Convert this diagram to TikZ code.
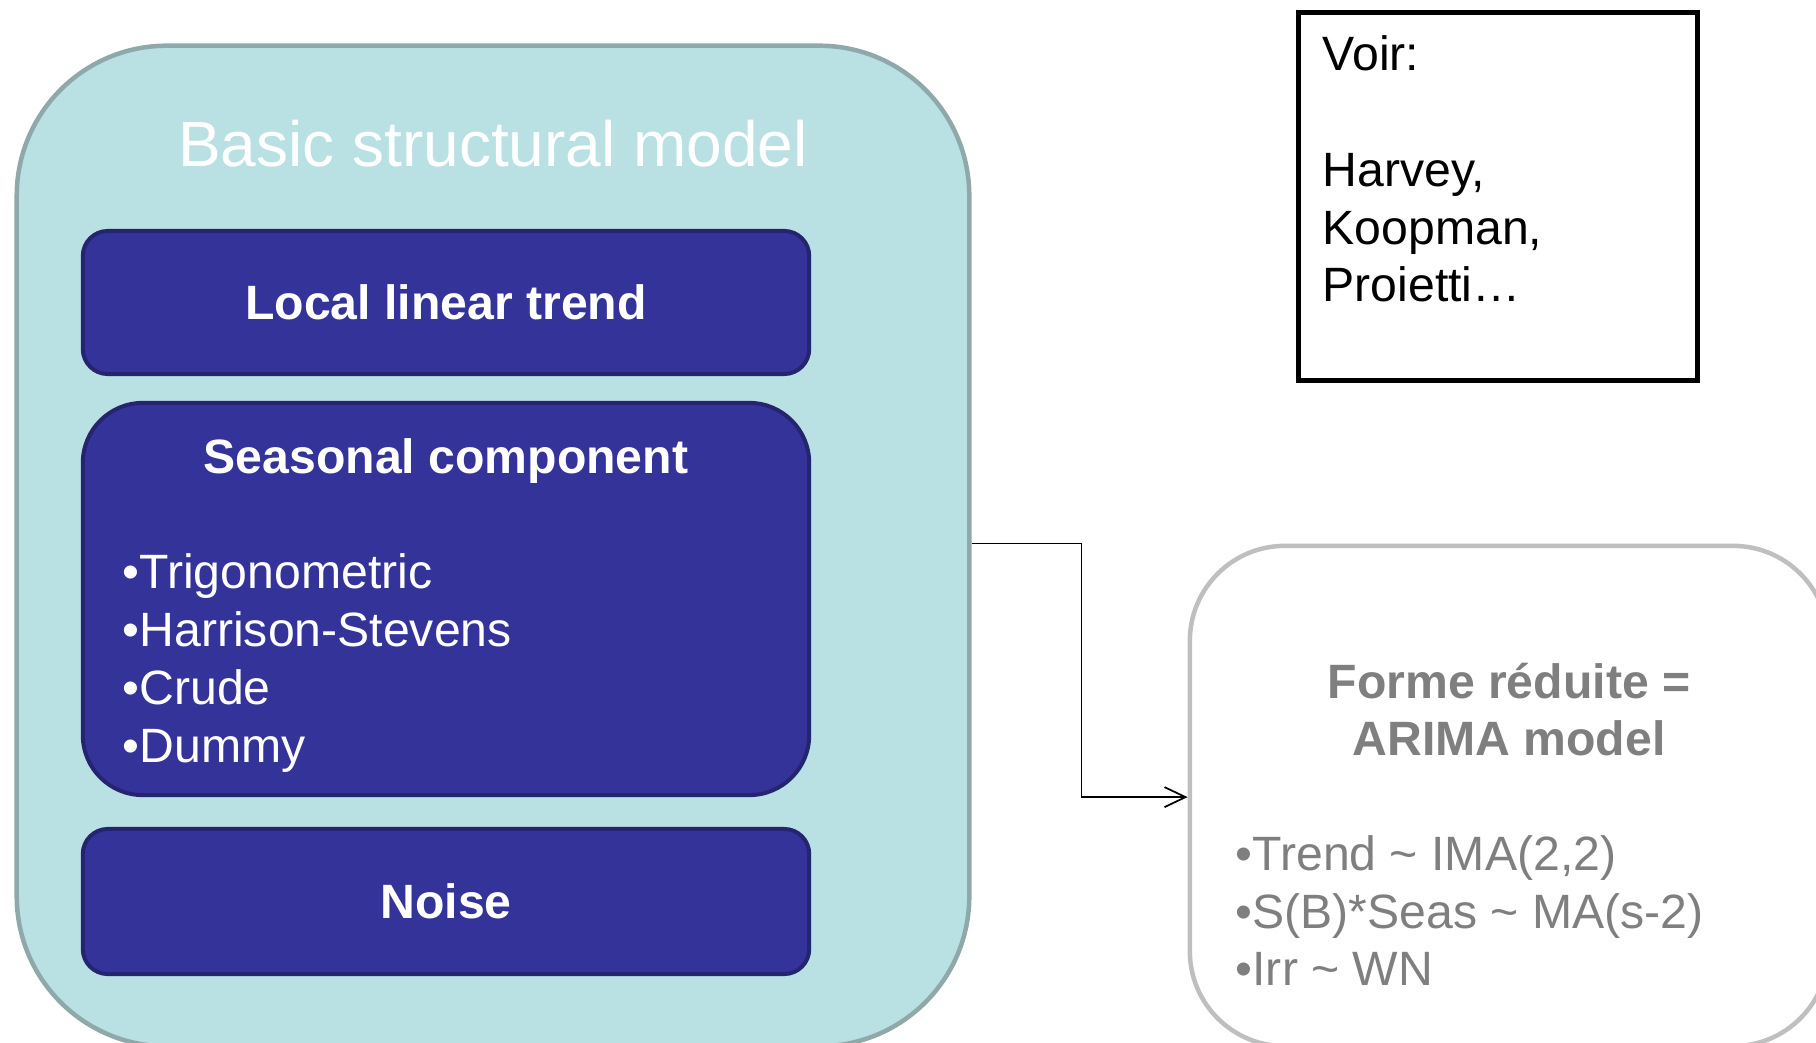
\documentclass[tikz,border=0pt]{standalone}
\usepackage{fontspec}
\setmainfont{Liberation Sans}
\usepackage{tikz}
\usetikzlibrary{arrows.meta}
\definecolor{bsmfill}{HTML}{B9E0E3}
\definecolor{bsmline}{HTML}{8FA9AB}
\definecolor{navyfill}{HTML}{343399}
\definecolor{navyline}{HTML}{25246E}
\definecolor{redgray}{HTML}{7F7F7F}
\definecolor{redline}{HTML}{BFBFBF}

\begin{document}
\begin{tikzpicture}[x=0.01cm,y=-0.01cm,
  bigbox/.style={draw=bsmline,fill=bsmfill,line width=0.45mm,rounded corners=1.5cm,inner sep=0pt},
  compbox/.style={draw=navyline,fill=navyfill,line width=0.4mm,inner sep=0pt,minimum width=7.26cm},
  txt/.style={inner sep=0pt,font=\fontsize{13.7}{16.5}\selectfont},
  wtxt/.style={txt,text=white},
  gtxt/.style={txt,text=redgray},
  conn/.style={line width=0.5pt,-{Straight Barb[length=2.1mm,width=2mm]}}]
\useasboundingbox (0,0) rectangle (1816,1043);
\clip (0,0) rectangle (1816,1043);
% basic structural model
\node[bigbox,minimum width=9.52cm,minimum height=10cm] (bsm) at (493,546) {};
\node[inner sep=0pt,text=white,font=\fontsize{18.2}{22}\selectfont,anchor=base] (bsmtitle) at (493,167) {Basic structural model};
\node[compbox,rounded corners=0.25cm,minimum height=1.43cm] (llt) at (446,302.5) {};
\node[wtxt,font=\fontsize{13.7}{16.5}\selectfont\bfseries,anchor=base] (llttext) at (446,319.5) {Local linear trend};
\node[compbox,rounded corners=0.6cm,minimum height=3.92cm] (seas) at (446,599) {};
\node[wtxt,font=\fontsize{13.7}{16.5}\selectfont\bfseries,anchor=base] (seastext) at (446,473) {Seasonal component};
\node[wtxt,anchor=base west] (s1) at (122,588) {•Trigonometric};
\node[wtxt,anchor=base west] (s2) at (122,646) {•Harrison-Stevens};
\node[wtxt,anchor=base west] (s3) at (122,704) {•Crude};
\node[wtxt,anchor=base west] (s4) at (122,762) {•Dummy};
\node[compbox,rounded corners=0.25cm,minimum height=1.45cm] (noise) at (446,901.5) {};
\node[wtxt,font=\fontsize{13.7}{16.5}\selectfont\bfseries,anchor=base] (noisetext) at (446,918.5) {Noise};
% reduced form
\node[draw=redline,fill=white,line width=0.45mm,rounded corners=0.95cm,inner sep=0pt,minimum width=6.38cm,minimum height=5cm] (arima) at (1509,796) {};
\node[gtxt,font=\fontsize{13.7}{16.5}\selectfont\bfseries,anchor=base] (arimat1) at (1509,698) {Forme réduite =};
\node[gtxt,font=\fontsize{13.7}{16.5}\selectfont\bfseries,anchor=base] (arimat2) at (1509,755) {ARIMA model};
\node[gtxt,anchor=base west] (r1) at (1235,870) {•Trend \textasciitilde{} IMA(2,2)};
\node[gtxt,anchor=base west] (r2) at (1235,928) {•S(B)*Seas \textasciitilde{} MA(s-2)};
\node[gtxt,anchor=base west] (r3) at (1235,985) {•Irr \textasciitilde{} WN};
\draw[conn] (bsm.east |- arima.north) -- ++(110,0) |- (arima.west |- seas.south);
% references
\node[draw=black,line width=0.5mm,inner sep=0pt,minimum width=3.98cm,minimum height=3.675cm] (voir) at (1498,196.25) {};
\node[txt,anchor=base west] (v1) at (1322,71) {Voir:};
\node[txt,anchor=base west] (v2) at (1322,187) {Harvey,};
\node[txt,anchor=base west] (v3) at (1322,244.5) {Koopman,};
\node[txt,anchor=base west] (v4) at (1322,302) {Proietti…};
\end{tikzpicture}
\end{document}
